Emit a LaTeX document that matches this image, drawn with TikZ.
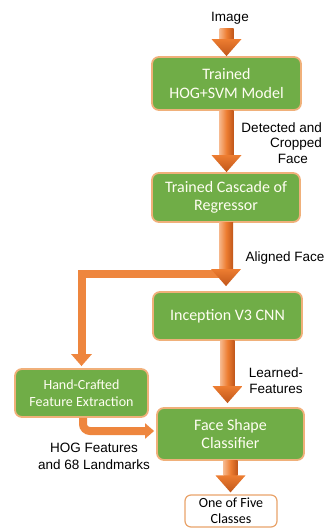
\documentclass[tikz,border=0pt]{standalone}
\usepackage{fontspec}
\setmainfont{Carlito}
\newfontfamily\labelfont{Liberation Sans}
\usetikzlibrary{calc,arrows.meta}

\definecolor{boxgreen}{HTML}{70AD47}
\definecolor{boxrim}{HTML}{F0B07A}
\definecolor{arrowlight}{HTML}{F6B68A}
\definecolor{arrowmid}{HTML}{ED7D31}
\definecolor{arrowdark}{HTML}{C0561A}
\definecolor{outrim}{HTML}{E9A36A}

\tikzset{
  stagebox/.style={draw=boxrim, line width=1.8pt, fill=boxgreen, rounded corners=7pt,
    text=white!95!yellow, align=center, inner sep=0pt},
  resultbox/.style={draw=outrim, line width=1.2pt, fill=white, rounded corners=6pt,
    align=center, inner sep=0pt, font=\fontsize{14}{16}\selectfont},
  flowlabel/.style={font=\labelfont\fontsize{13.5}{16}\selectfont, inner sep=0pt},
  shaftshade/.style={left color=arrowlight, right color=arrowdark, middle color=arrowmid},
  headshade/.style={top color=arrowmid, bottom color=arrowdark},
  thinflow/.style={draw=arrowmid!85!arrowlight, line width=8pt,
    -{Triangle[width=20pt,length=12pt]}},
}

% wide block arrow going straight down from #1 to the tip at #2
\newcommand\bigflow[2]{%
  \shade[shaftshade] let \p1=(#1), \p2=(#2) in
    (\x1-7pt,\y1) rectangle (\x1+7pt,\y2+16.5pt);
  \shade[headshade] let \p1=(#1), \p2=(#2) in
    (\x1-15pt,\y2+17pt) -- (\x1+15pt,\y2+17pt) -- (\x1,\y2) -- cycle;
}

\begin{document}
\begin{tikzpicture}[x=1pt,y=-1pt]
\useasboundingbox (0,0) rectangle (328,529);

% stages
\node[flowlabel] (img) at (230,18) {Image};
\node[stagebox, minimum width=149pt, minimum height=53pt,
  font=\fontsize{16}{19}\selectfont] (b1) at (226.5,83.5) {Trained\\HOG+SVM Model};
\node[stagebox, minimum width=148pt, minimum height=49pt,
  font=\fontsize{16}{18}\selectfont] (b2) at (226,197.5) {Trained Cascade of\\Regressor};
\node[stagebox, minimum width=149pt, minimum height=48pt,
  font=\fontsize{16}{18}\selectfont] (b3) at (227.5,316) {Inception V3 CNN};
\node[stagebox, minimum width=133pt, minimum height=48pt,
  font=\fontsize{14}{17}\selectfont] (hc) at (81.5,393) {Hand-Crafted\\Feature Extraction};
\node[stagebox, minimum width=147pt, minimum height=52pt,
  font=\fontsize{16}{18}\selectfont] (fs) at (230.5,434) {Face Shape\\Classifier};
\node[resultbox, minimum width=92pt, minimum height=32pt] (out) at (231,511) {One of Five\\Classes};

% edge labels
\node[flowlabel, anchor=east, align=right, font=\labelfont\fontsize{13.5}{15.5}\selectfont]
  (lbldet) at (322,143) {Detected and\\Cropped\hspace*{14pt}\\Face\hspace*{14pt}};
\node[flowlabel] (lblali) at (285,258) {Aligned Face};
\node[flowlabel, align=center] (lbllrn) at (276,381) {Learned-\\Features};
\node[flowlabel, align=center, font=\labelfont\fontsize{13.5}{17}\selectfont]
  (lblhog) at (94,456.5) {HOG Features\\and 68 Landmarks};

% side branch to the hand-crafted features
\coordinate (split) at ($(b2.south)+(0,51)$);
\coordinate (hcin) at ($(hc.north)+(0,-2)$);
\draw[thinflow] (split) -| (hcin);

\coordinate (hcout) at ($(hc.south)+(1.5,0)$);
\coordinate (fsin) at ($(fs.west)+(-2,-3)$);
\draw[thinflow, rounded corners=7pt, -{Triangle[width=15pt,length=9pt]}] (hcout) |- (fsin);

% main flow
\coordinate (imgfoot) at ($(b1.north |- img.south)+(0,4)$);
\bigflow{imgfoot}{b1.north}
\bigflow{b1.south}{b2.north}
\coordinate (b3top) at ($(b3.north)+(0,-5)$);
\bigflow{b2.south}{b3top}
\coordinate (fstop) at ($(fs.north)+(0,-4)$);
\bigflow{b3.south}{fstop}
\coordinate (outtop) at ($(out.north)+(0,-2)$);
\bigflow{fs.south}{outtop}
\end{tikzpicture}
\end{document}
